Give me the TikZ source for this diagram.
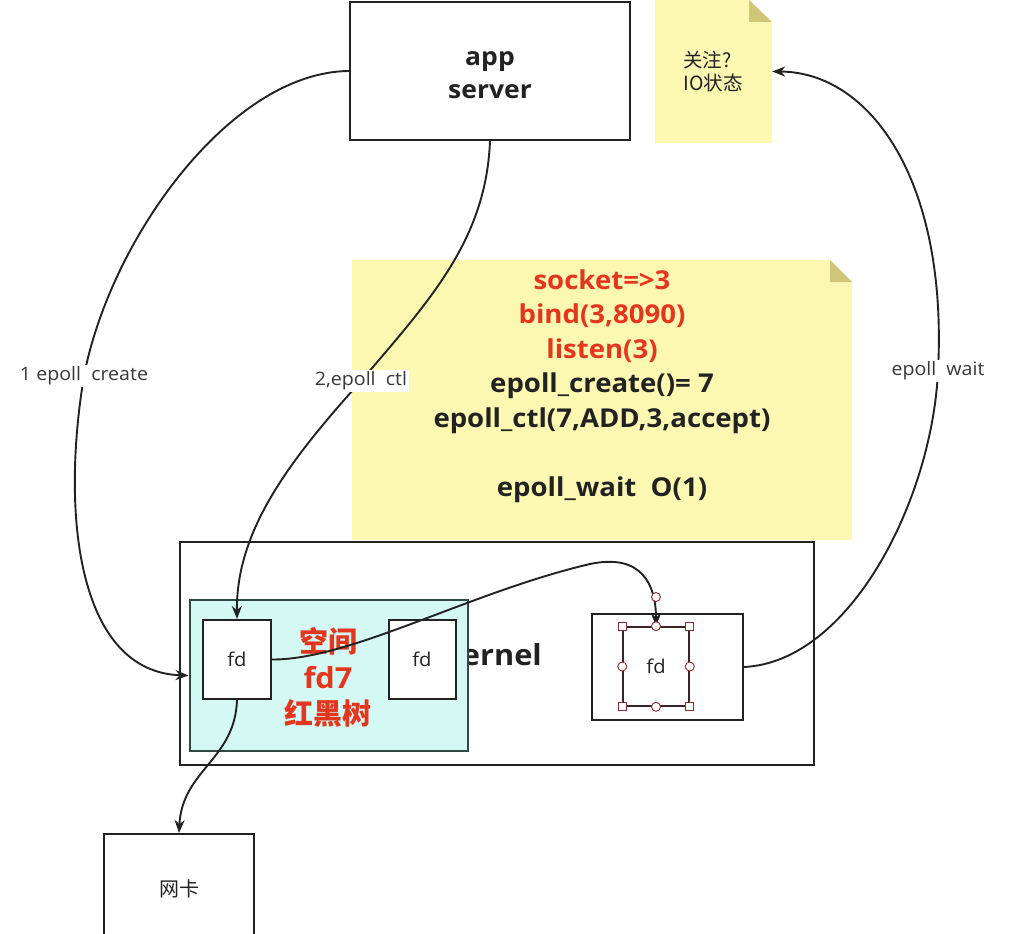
\documentclass[tikz,border=0pt]{standalone}
\usepackage{fontspec}
\setmainfont{Open Sans}[FakeStretch=1.06]
\newfontfamily\cjk{Noto Sans CJK SC}
\usetikzlibrary{arrows.meta,calc}
\definecolor{noteyellow}{HTML}{FCF8B2}
\definecolor{foldc}{HTML}{CFC67A}
\definecolor{redtxt}{HTML}{E4361E}
\definecolor{cyanfill}{HTML}{D4F8F4}
\definecolor{cyanborder}{HTML}{2F4A44}
\definecolor{handlec}{HTML}{8E2A2A}
\definecolor{ink}{HTML}{222222}
\begin{document}
\begin{tikzpicture}[x=1pt,y=-1pt,
  box/.style={draw=ink, line width=2pt, fill=white, inner sep=0pt, font=\fontsize{19}{21}\selectfont, text=ink},
  conn/.style={draw=ink, line width=1.9pt, -{Stealth[length=13pt,width=10pt]}},
  lbl/.style={fill=white, inner sep=1.5pt, font=\fontsize{18.5}{21}\selectfont, text=ink!90},
  bigtxt/.style={font=\fontsize{26}{34.5}\selectfont\bfseries, align=center, text=ink},
  hsq/.style={draw=handlec, fill=white, line width=0.9pt, minimum size=8pt, inner sep=0pt},
  hci/.style={draw=handlec, fill=white, line width=0.9pt, circle, minimum size=9pt, inner sep=0pt}]
\useasboundingbox (0,0) rectangle (1010,934);
\fill[white] (0,0) rectangle (1010,934);

% notes
\fill[noteyellow] (655,0) -- (749,0) -- (772,22) -- (772,143) -- (655,143) -- cycle;
\fill[foldc] (749,0) -- (772,22) -- (749,22) -- cycle;
\node[minimum width=117pt, minimum height=143pt, inner sep=0pt] (note1) at (713.5,71.5) {};
\node[font=\fontsize{19.5}{23}\selectfont\cjk, align=left, text=ink] (note1t) at (713,72) {关注?\\IO状态};

\fill[noteyellow] (352,260) -- (830,260) -- (852,282) -- (852,540) -- (352,540) -- cycle;
\fill[foldc] (830,260) -- (852,282) -- (830,282) -- cycle;
\node[minimum width=500pt, minimum height=280pt, inner sep=0pt] (note2) at (602,400) {};
\node[bigtxt] (note2t) at (602,386) {\textcolor{redtxt}{socket=>3}\\\textcolor{redtxt}{bind(3,8090)}\\\textcolor{redtxt}{listen(3)}\\epoll\_create()= 7\\epoll\_ctl(7,ADD,3,accept)\\[0pt]\\epoll\_wait\ \ O(1)};

% app server
\node[box, minimum width=280pt, minimum height=138pt] (app) at (490,71) {};
\node[font=\fontsize{25}{33}\selectfont\bfseries, align=center, text=ink] (apptxt) at (490,75) {app\\server};

% kernel
\node[box, minimum width=634pt, minimum height=223pt] (kernel) at (496.5,653.5) {};
\node[font=\fontsize{29}{32}\selectfont\bfseries, text=ink, anchor=west] (kerneltxt) at (440,655) {kernel};
\node[draw=cyanborder, fill=cyanfill, line width=2pt, minimum width=278pt, minimum height=151pt, inner sep=0pt] (tree) at (328.5,675.5) {};
\node[box, minimum width=68pt, minimum height=79pt] (fd1) at (237,659.5) {fd};
\node[box, minimum width=67pt, minimum height=79pt] (fd2) at (422,659.5) {fd};
\node[font=\fontsize{29}{36}\selectfont\bfseries, text=redtxt, align=center] (treetxt) at (328,677) {{\cjk 空间}\\fd7\\{\cjk 红黑树}};
\node[box, minimum width=151pt, minimum height=106pt] (fd3) at (667.5,667) {};
\node[draw=ink!80!handlec, line width=1.6pt, minimum width=66pt, minimum height=79pt, inner sep=0pt, font=\fontsize{19}{21}\selectfont, text=ink] (sel) at (656,666.5) {fd};

% NIC
\node[box, minimum width=150pt, minimum height=110pt, font=\fontsize{20}{23}\selectfont\cjk] (nic) at (179,889) {网卡};

% label positions
\coordinate (p1) at (84,376);
\coordinate (p2) at (361,381);
\coordinate (p4) at (938,371);

% connectors
\draw[conn] (app.west) .. controls (230,72) and (110,240) .. (p1)
  .. controls (60,520) and (80,672) .. (tree.west);
\draw[conn] (app.south) .. controls (486,240) and (430,300) .. (p2)
  .. controls (290,460) and (236,530) .. (fd1.north);
\draw[conn] (fd1.east) .. controls (350,660) and (470,592) .. (590,564)
  .. controls (642,553) and (656,585) .. (sel.north);
\draw[conn] (fd3.east) .. controls (850,662) and (932,500) .. (p4)
  .. controls (948,180) and (870,72) .. (note1.east);
\draw[conn] (fd1.south) .. controls (235,760) and (182,770) .. (nic.north);

% selection handles
\node[hci] (rot) at (656,597) {};
\node[hsq] at (sel.north west) {};
\node[hsq] at (sel.north east) {};
\node[hsq] at (sel.south west) {};
\node[hsq] at (sel.south east) {};
\node[hci] at (sel.north) {};
\node[hci] at (sel.south) {};
\node[hci] at (sel.west) {};
\node[hci] at (sel.east) {};

% labels
\node[lbl] (l1) at (p1) {1 epoll\ \ create};
\node[lbl] (l2) at (p2) {2,epoll\ \ ctl};
\node[lbl] (l4) at (p4) {epoll\ \ wait};
\end{tikzpicture}
\end{document}
